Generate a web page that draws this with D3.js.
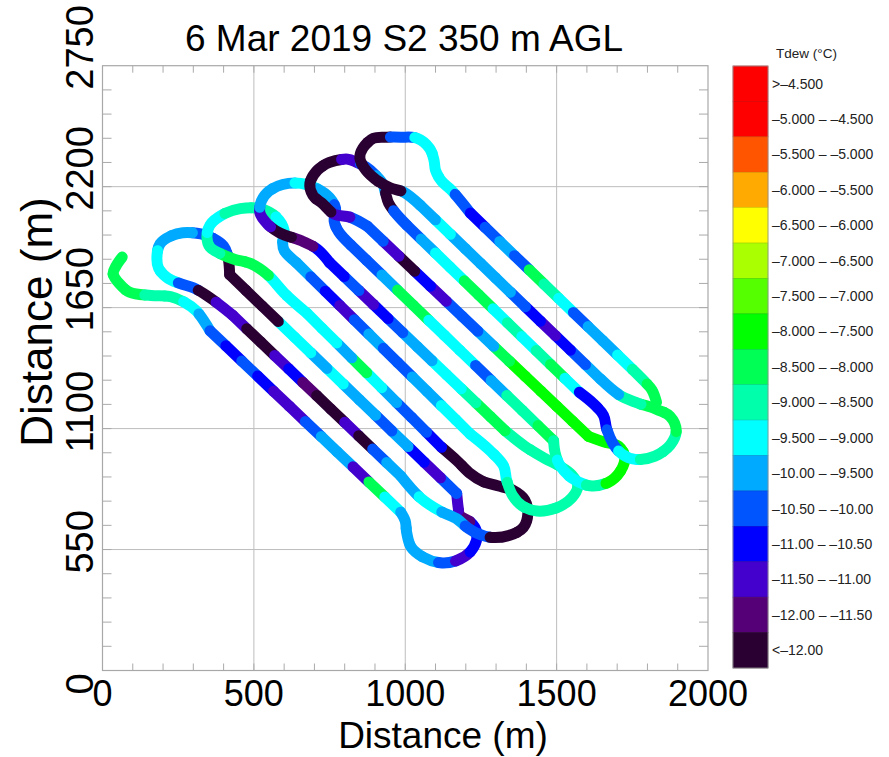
<!DOCTYPE html>
<html>
<head>
<meta charset="utf-8">
<title>6 Mar 2019 S2 350 m AGL</title>
<script src="https://d3js.org/d3.v7.min.js"></script>
<style>
  body { margin: 0; background: #fff; }
  text { font-family: "Liberation Sans", Arial, Helvetica, sans-serif; }
</style>
</head>
<body>
<div id="chart"></div>
<script>

//------------------------------DATA------------------------------//
const xTicks = [0, 500, 1000, 1500, 2000];
const yTicks = [0, 550, 1100, 1650, 2200, 2750];
const xGrid = [500, 1000, 1500];
const yGrid = [550, 1100, 1650, 2200];

// Tdew classes, low -> high
const classBreaks = [-12, -11.5, -11, -10.5, -10, -9.5, -9, -8.5, -8, -7.5, -7, -6.5, -6, -5.5, -5, -4.5];
const classColors = ["#2a0033", "#550077", "#4400cc", "#0000ff", "#0055ff", "#00aaff", "#00ffff", "#00ffaa",
                     "#00ff55", "#00ff00", "#55ff00", "#aaff00", "#ffff00", "#ffaa00", "#ff5500", "#fe0000", "#ff0000"];
// legend labels, top -> bottom
const classLabels = [">\u20134.500", "\u20135.000 \u2013 \u20134.500", "\u20135.500 \u2013 \u20135.000", "\u20136.000 \u2013 \u20135.500",
                     "\u20136.500 \u2013 \u20136.000", "\u20137.000 \u2013 \u20136.500", "\u20137.500 \u2013 \u20137.000", "\u20138.000 \u2013 \u20137.500",
                     "\u20138.500 \u2013 \u20138.000", "\u20139.000 \u2013 \u20138.500", "\u20139.500 \u2013 \u20139.000", "\u201310.00 \u2013 \u20139.500",
                     "\u201310.50 \u2013 \u201310.00", "\u201311.00 \u2013 \u201310.50", "\u201311.50 \u2013 \u201311.00", "\u201312.00 \u2013 \u201311.50", "<\u201312.00"];

// flight track, in flight order: waypoints [x m, y m] and Tdew (deg C) read at equal steps along each piece
const hookStart = [[65,1880],[45,1840],[35,1805],[55,1760],[90,1720],[160,1705],[225,1700],[270,1675],[310,1635],[355,1545]];
const hookStartT = [-8.25,-8.25,-8.25,-8.75,-8.75,-9.25,-9.75];
const leg1 = [[355,1545],[985,720]];
const leg1T = [-10.25,-10.75,-10.25,-10.75,-11.25,-11.25,-10.25,-9.75,-9.75,-11.25,-8.25,-9.25];
const turnB1 = [[985,720],[1000,680],[1005,625],[1020,560],[1060,515],[1115,490],[1170,500],[1215,540],[1235,590],[1235,635],[1215,675],[1180,705],[1175,740],[1170,805]];
const turnB1T = [-9.75,-9.75,-9.75,-9.75,-10.25,-11.25,-10.75,-10.75,-11.75,-11.25];
const leg3 = [[1170,805],[420,1800]];
const leg3T = [-10.25,-11.25,-10.75,-9.75,-10.25,-9.75,-9.75,-9.25,-9.75,-9.25,-9.25,-12.25,-12.25,-12.25];
const turnT1 = [[420,1800],[415,1875],[400,1930],[365,1965],[325,1985],[265,1990],[225,1975],[190,1940],[180,1885],[185,1830],[215,1785],[255,1760],[300,1740],[355,1695],[430,1615]];
const turnT1T = [-12.25,-10.25,-10.25,-9.75,-9.75,-9.25,-9.25,-10.25,-12.25,-11.25];
const leg2 = [[430,1615],[985,885]];
const leg2T = [-11.25,-12.25,-12.25,-11.25,-10.75,-11.75,-12.25,-12.25,-11.25,-12.25,-10.25,-9.75];
const turnB2 = [[985,885],[1050,785],[1115,725],[1170,690],[1200,655],[1235,625],[1285,605],[1345,615],[1390,650],[1405,715],[1395,775],[1355,820],[1305,840],[1255,860],[1215,895],[1170,955],[1120,1015]];
const turnB2T = [-9.75,-9.25,-9.75,-10.25,-12.25,-12.25,-12.25,-12.25,-12.25,-12.25];
const leg4 = [[1120,1015],[675,1625]];
const leg4T = [-10.75,-10.25,-10.25,-9.75,-9.25,-8.25,-9.75,-9.25,-9.25];
const turnT2 = [[675,1625],[605,1710],[545,1800],[490,1850],[435,1870],[390,1895],[355,1925],[345,1970],[355,2025],[400,2075],[455,2100],[520,2100],[575,2060],[600,2000],[595,1945],[600,1910],[640,1855]];
const turnT2T = [-9.25,-9.25,-8.25,-8.25,-8.75,-9.25,-8.75,-8.75,-9.25,-9.75];
const leg5 = [[640,1855],[1215,1075]];
const leg5T = [-9.75,-10.25,-10.75,-11.25,-10.25,-9.75,-10.25,-10.25,-9.75,-9.75,-9.25,-9.25];
const turnB3 = [[1215,1075],[1280,1000],[1325,930],[1335,865],[1355,795],[1385,750],[1435,725],[1500,740],[1550,785],[1570,840],[1550,890],[1510,930],[1460,965],[1395,1020],[1330,1090]];
const turnB3T = [-9.25,-9.25,-8.75,-8.75,-8.75,-8.75,-8.75,-8.75];
const leg6 = [[1330,1090],[750,1855]];
const leg6T = [-8.25,-8.25,-8.75,-9.25,-9.25,-9.75,-9.75,-10.25,-10.75,-11.25,-10.25,-10.75];
const turnT3 = [[750,1855],[710,1915],[655,1955],[585,1990],[545,2030],[520,2080],[525,2135],[550,2180],[595,2210],[655,2215],[710,2190],[750,2150],[770,2100],[765,2045],[780,1995],[820,1935]];
const turnT3T = [-10.75,-11.75,-12.25,-11.25,-9.75,-9.75,-9.25,-9.75,-10.25,-10.25];
const leg7 = [[820,1935],[1490,1045]];
const leg7T = [-10.25,-10.25,-9.75,-8.25,-8.25,-9.25,-9.25,-9.25,-10.25,-9.75,-8.75,-8.75,-8.25];
const turnB4 = [[1490,1045],[1495,990],[1510,935],[1550,875],[1610,840],[1670,855],[1710,905],[1725,970],[1705,1020],[1655,1040],[1605,1065]];
const turnB4T = [-8.75,-9.25,-9.25,-8.75,-7.75,-7.75,-7.75,-7.75];
const leg8 = [[1605,1065],[875,2020]];
const leg8T = [-7.75,-7.75,-7.75,-7.75,-7.75,-8.25,-9.75,-10.25,-10.25,-11.25,-10.75,-12.25,-11.25,-10.25];
const turnT4 = [[875,2020],[820,2060],[765,2075],[725,2125],[695,2160],[685,2215],[710,2275],[750,2310],[810,2325],[840,2310],[870,2290],[900,2255],[925,2215],[935,2170],[945,2125],[965,2085],[1005,2025]];
const turnT4T = [-10.25,-11.25,-12.25,-12.25,-12.25,-12.25,-11.25,-10.25,-9.75,-12.25,-10.25];
const leg9 = [[1005,2025],[1575,1265]];
const leg9T = [-10.25,-9.75,-9.25,-9.25,-8.25,-8.25,-9.25,-8.75,-9.25,-8.75,-8.25,-9.25];
const turnB5 = [[1575,1265],[1620,1215],[1655,1160],[1665,1100],[1685,1035],[1715,985],[1760,960],[1825,975],[1875,1025],[1895,1090],[1875,1155],[1825,1190],[1760,1220],[1705,1255],[1645,1325]];
const turnB5T = [-10.75,-10.75,-10.25,-9.25,-8.75,-8.75,-8.25,-8.25,-8.75,-9.75];
const leg10 = [[1645,1325],[1050,2115]];
const leg10T = [-9.75,-10.25,-10.75,-11.25,-10.75,-10.25,-9.75,-9.75,-9.75,-9.75,-9.25,-9.75];
const turnT5 = [[1050,2115],[995,2175],[950,2195],[910,2225],[870,2275],[850,2330],[860,2375],[895,2420],[940,2425],[985,2425],[1040,2420],[1080,2375],[1095,2320],[1100,2275],[1120,2225],[1155,2180],[1215,2080]];
const turnT5T = [-9.75,-12.25,-12.25,-12.25,-12.25,-10.25,-9.25,-9.25,-9.25,-10.25];
const leg11 = [[1215,2080],[1750,1370]];
const leg11T = [-10.75,-10.25,-9.75,-10.25,-8.25,-8.75,-9.25,-10.25,-9.75,-9.75,-9.25];
const hookEnd = [[1750,1370],[1790,1315],[1815,1275],[1830,1220]];
const hookEndT = [-8.75,-8.25];

const sections = [
    [hookStart, hookStartT], [leg1, leg1T], [turnB1, turnB1T], [leg3, leg3T], [turnT1, turnT1T],
    [leg2, leg2T], [turnB2, turnB2T], [leg4, leg4T], [turnT2, turnT2T], [leg5, leg5T],
    [turnB3, turnB3T], [leg6, leg6T], [turnT3, turnT3T], [leg7, leg7T], [turnB4, turnB4T],
    [leg8, leg8T], [turnT4, turnT4T], [leg9, leg9T], [turnB5, turnB5T], [leg10, leg10T],
    [turnT5, turnT5T], [leg11, leg11T], [hookEnd, hookEndT]
];

//-----------------------------SVG------------------------------//
const W = 889, H = 757;
const plot = { left: 102.5, right: 708, top: 65.7, bottom: 670.5 };

const svg = d3.select("#chart").append("svg")
    .attr("width", W).attr("height", H)
    .style("display", "block");

const x = d3.scaleLinear().domain([0, 2000]).range([plot.left, plot.right]);
const y = d3.scaleLinear().domain([0, 2750]).range([plot.bottom, plot.top]);
const color = d3.scaleThreshold().domain(classBreaks).range(classColors);

//----------------------------GRIDS-----------------------------//
const grid = svg.append("g").attr("stroke", "#bdbdbd").attr("stroke-width", 1);
grid.selectAll("line.gx").data(xGrid).join("line").attr("class", "gx")
    .attr("x1", d => x(d)).attr("x2", d => x(d))
    .attr("y1", plot.top).attr("y2", plot.bottom);
grid.selectAll("line.gy").data(yGrid).join("line").attr("class", "gy")
    .attr("y1", d => y(d)).attr("y2", d => y(d))
    .attr("x1", plot.left).attr("x2", plot.right);

// minor ticks, inward on all four sides
const xMinor = d3.range(100, 2000, 100);
const yMinor = d3.range(110, 2750, 110);
const ticks = svg.append("g").attr("stroke", "#aaaaaa").attr("stroke-width", 1);
ticks.selectAll(null).data(xMinor).join("line")
    .attr("x1", d => x(d)).attr("x2", d => x(d))
    .attr("y1", plot.bottom).attr("y2", plot.bottom - 7);
ticks.selectAll(null).data(xMinor).join("line")
    .attr("x1", d => x(d)).attr("x2", d => x(d))
    .attr("y1", plot.top).attr("y2", plot.top + 7);
ticks.selectAll(null).data(yMinor).join("line")
    .attr("y1", d => y(d)).attr("y2", d => y(d))
    .attr("x1", plot.left).attr("x2", plot.left + 9);
ticks.selectAll(null).data(yMinor).join("line")
    .attr("y1", d => y(d)).attr("y2", d => y(d))
    .attr("x1", plot.right).attr("x2", plot.right - 9);

//----------------------------TRACK-----------------------------//
const line = d3.line()
    .x(d => x(d[0]))
    .y(d => y(d[1]))
    .curve(d3.curveCatmullRom.alpha(0.5));

const trackG = svg.append("g")
    .attr("fill", "none")
    .attr("stroke-width", 11)
    .attr("stroke-linecap", "round")
    .attr("stroke-linejoin", "round");

sections.forEach(([pts, tdew]) => {
    const d = line(pts);
    const probe = trackG.append("path").attr("d", d).attr("stroke", "none");
    const L = probe.node().getTotalLength();
    probe.remove();
    const seg = L / tdew.length;
    tdew.forEach((t, i) => {
        trackG.append("path")
            .attr("d", d)
            .attr("stroke", color(t))
            .attr("stroke-dasharray", seg + " " + (L + 50))
            .attr("stroke-dashoffset", -i * seg);
    });
});

// frame
svg.append("rect")
    .attr("x", plot.left).attr("y", plot.top)
    .attr("width", plot.right - plot.left).attr("height", plot.bottom - plot.top)
    .attr("fill", "none").attr("stroke", "#a8a8a8").attr("stroke-width", 1.2);

//-----------------------------AXES-----------------------------//
svg.append("g").selectAll("text").data(xTicks).join("text")
    .attr("x", d => x(d)).attr("y", 706)
    .attr("text-anchor", "middle")
    .style("font-size", "36px")
    .text(d => d);

// rotated y labels start a little below their tick, as in the original
svg.append("g").selectAll("text").data(yTicks).join("text")
    .attr("transform", d => "translate(93," + (y(d) + 24) + ") rotate(-90)")
    .attr("text-anchor", "start")
    .style("font-size", "38px")
    .text(d => d);

svg.append("text")
    .attr("x", 443).attr("y", 748)
    .attr("text-anchor", "middle")
    .style("font-size", "37px")
    .text("Distance (m)");

svg.append("text")
    .attr("transform", "translate(52,322) rotate(-90)")
    .attr("text-anchor", "middle")
    .style("font-size", "44px")
    .text("Distance (m)");

svg.append("text")
    .attr("x", 404).attr("y", 51)
    .attr("text-anchor", "middle")
    .style("font-size", "37px")
    .text("6 Mar 2019 S2 350 m AGL");

//----------------------------LEGEND----------------------------//
const bar = { x: 733, w: 35, top: 66, bottom: 668 };
const rowH = (bar.bottom - bar.top) / classLabels.length;
const legendColors = classColors.slice().reverse();

const legend = svg.append("g");
legend.selectAll("rect").data(classLabels).join("rect")
    .attr("x", bar.x)
    .attr("y", (d, i) => bar.top + i * rowH)
    .attr("width", bar.w).attr("height", rowH)
    .attr("fill", (d, i) => legendColors[i])
    .attr("stroke", (d, i) => d3.color(legendColors[i]).darker(0.5))
    .attr("stroke-width", 0.6);

legend.append("rect")
    .attr("x", bar.x).attr("y", bar.top)
    .attr("width", bar.w).attr("height", bar.bottom - bar.top)
    .attr("fill", "none").attr("stroke", "#999").attr("stroke-width", 0.8);

legend.selectAll("text.lab").data(classLabels).join("text")
    .attr("class", "lab")
    .attr("x", bar.x + bar.w + 4)
    .attr("y", (d, i) => bar.top + (i + 0.5) * rowH)
    .attr("dy", "0.35em")
    .style("font-size", "14px")
    .style("fill", "#222")
    .text(d => d);

svg.append("text")
    .attr("x", 776).attr("y", 58)
    .style("font-size", "13.5px")
    .style("fill", "#222")
    .text("Tdew (\u00b0C)");

</script>
</body>
</html>
